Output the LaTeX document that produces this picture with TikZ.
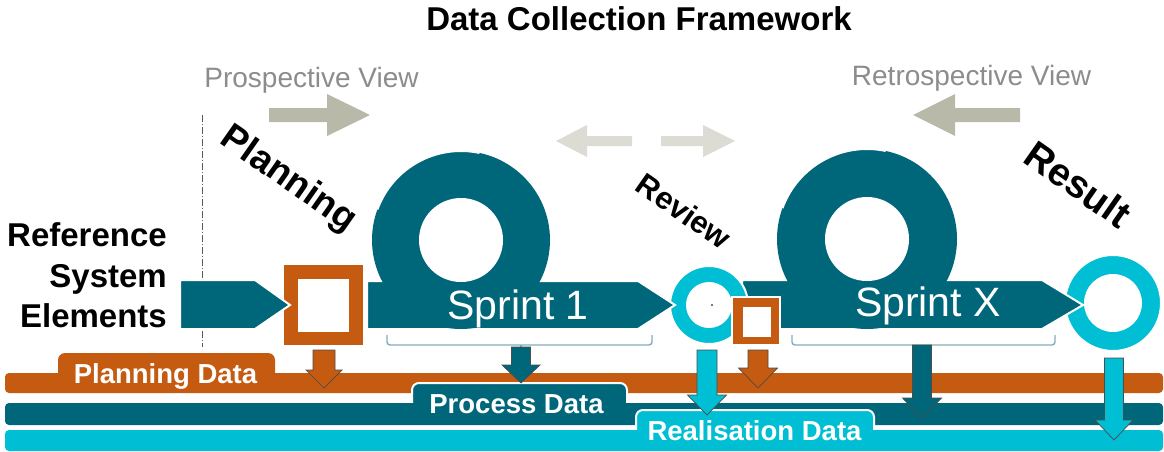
\documentclass[tikz,border=0pt]{standalone}
\usepackage{fontspec}
\setmainfont{Liberation Sans}
\definecolor{orng}{RGB}{197,90,17}
\definecolor{deepteal}{RGB}{0,103,122}
\definecolor{cyn}{RGB}{0,190,212}
\definecolor{viewarrow}{RGB}{184,185,168}
\definecolor{lightarrow}{RGB}{220,220,212}
\definecolor{viewtext}{RGB}{140,140,140}
\definecolor{bracketcol}{RGB}{130,172,186}
% down arrow: centre x, top, head base, tip, shaft half width, head half width, colour
\newcommand\dnarrow[7]{%
  \filldraw[fill=#7, downarrow] (#1-#5,#2) -- (#1+#5,#2) -- (#1+#5,#3) -- (#1+#6,#3)
    -- (#1,#4) -- (#1-#6,#3) -- (#1-#5,#3) -- cycle;}
% bracket under a sprint: left x, right x, centre x
\newcommand\sprintbracket[3]{%
  \draw[bracketcol, line width=1.4pt, rounded corners=3] (#1,335) -- (#1,345) -- (#2,345) -- (#2,335);
  \draw[bracketcol, line width=1.4pt] (#3,345) -- (#3,348);}
\begin{document}
\begin{tikzpicture}[x=1pt,y=-1pt,
  band/.style={rounded corners=4},
  tabshape/.style={rounded corners=7},
  whiteedge/.style={draw=white, line width=2pt},
  downarrow/.style={draw=black!70, line width=0.7pt},
  bandlabel/.style={text=white, font=\bfseries\fontsize{27.5}{30}\selectfont, inner sep=0, anchor=base},
  phase/.style={font=\bfseries\fontsize{#1}{#1}\selectfont, inner sep=0, rotate=-35},
  viewlabel/.style={text=viewtext, font=\fontsize{28}{30}\selectfont, inner sep=0, anchor=base},
  reflabel/.style={font=\bfseries\fontsize{33}{36}\selectfont, inner sep=0, anchor=base east},
  sprintlabel/.style={text=white, font=\fontsize{41}{44}\selectfont, inner sep=0, anchor=base}]
\useasboundingbox (0,0) rectangle (1164,452);

% title and view labels
\node[font=\bfseries\fontsize{33}{36}\selectfont, inner sep=0, anchor=base] (title) at (639,31) {Data Collection Framework};
\node[viewlabel] (prosp) at (311.5,87) {Prospective View};
\node[viewlabel] (retro) at (971.5,85) {Retrospective View};

% view arrows
\fill[viewarrow] (269,108) -- (327,108) -- (327,94) -- (370,115) -- (327,136) -- (327,122) -- (269,122) -- cycle;
\fill[viewarrow] (1020,108) -- (955,108) -- (955,94) -- (913,115) -- (955,136) -- (955,122) -- (1020,122) -- cycle;
\fill[lightarrow] (632,136) -- (587,136) -- (587,125) -- (556,141) -- (587,157) -- (587,146) -- (632,146) -- cycle;
\fill[lightarrow] (661,136) -- (703,136) -- (703,125) -- (735,141) -- (703,157) -- (703,146) -- (661,146) -- cycle;

% data bands with their tabs
\fill[orng, band] (5,373) rectangle (1163,393);
\fill[orng, tabshape] (58,353) rectangle (275,388);
\filldraw[fill=deepteal, whiteedge, tabshape] (412,383) rectangle (627,418);
\fill[deepteal, band] (5,403) rectangle (1163,425);
\filldraw[fill=cyn, whiteedge, tabshape] (636,410) rectangle (874,446);
\fill[cyn, band] (5,430) rectangle (1163,451);
\node[bandlabel] (pdata) at (165.5,383) {Planning Data};
\node[bandlabel] (prdata) at (516.5,413) {Process Data};
\node[bandlabel] (rdata) at (754.5,440) {Realisation Data};

% boundary of the reference system
\draw[black!65, line width=0.8pt, dash pattern=on 7pt off 2pt on 1pt off 2pt] (202,115) -- (202,347);

% brackets under the sprints
\sprintbracket{387}{652}{521}
\sprintbracket{792}{1055}{922}

% arrows down into the data bands
\dnarrow{324}{350}{370}{388}{11}{18}{orng}
\dnarrow{521}{347}{365}{383}{9.5}{19}{deepteal}
\dnarrow{707}{350}{395}{415}{10}{19.5}{cyn}
\dnarrow{758}{350}{368}{388}{10}{19.5}{orng}
\dnarrow{922}{345}{398}{418}{9.5}{19.5}{deepteal}
\dnarrow{1114}{358}{420}{440}{9.5}{19}{cyn}

% planning square
\fill[orng] (284,265) rectangle (363,345);
\fill[white] (298,279) rectangle (349,332);

% reference system arrow
\filldraw[fill=deepteal, whiteedge] (180,280) -- (255,280) -- (290,305) -- (255,329) -- (180,329) -- cycle;

% result ring
\filldraw[fill=cyn, whiteedge, even odd rule] (1113,303) circle (48) (1113,303) circle (28);

% sprint X
\filldraw[fill=deepteal, whiteedge] (742,280) -- (1042,280) -- (1083,305) -- (1042,329) -- (742,329) -- cycle;
\fill[deepteal] (867,239) circle (90);
\fill[white] (867,239) circle (42);
\draw[white, line width=2pt] (867,239) ++(200:90) arc[start angle=200, end angle=282, radius=90];
\node[sprintlabel] (sx) at (928,316) {Sprint X};

% review ring
\filldraw[fill=cyn, whiteedge, even odd rule] (709,305) circle (39) (709,305) circle (22);
\fill[black!70] (712,305) circle (1.2);

% sprint 1
\filldraw[fill=deepteal, whiteedge] (367,281) -- (638,281) -- (675,305) -- (638,329) -- (367,329) -- cycle;
\fill[deepteal] (461,240) circle (89);
\fill[white] (461,240) circle (42);
\draw[white, line width=2pt] (461,240) ++(200:89) arc[start angle=200, end angle=282, radius=89];
\node[sprintlabel] (s1) at (518,319) {Sprint 1};

% review square
\filldraw[fill=orng, whiteedge] (732,297) rectangle (780,345);
\fill[white] (743,307) rectangle (771,337);

% reference system label
\node[reflabel] (ref1) at (167,246) {Reference};
\node[reflabel] (ref2) at (167,287) {System};
\node[reflabel] (ref3) at (167,327) {Elements};

% phase labels
\node[phase=37] (planning) at (288,180) {Planning};
\node[phase=31] (review) at (684,211) {Review};
\node[phase=39] (result) at (1078,184) {Result};
\end{tikzpicture}
\end{document}
